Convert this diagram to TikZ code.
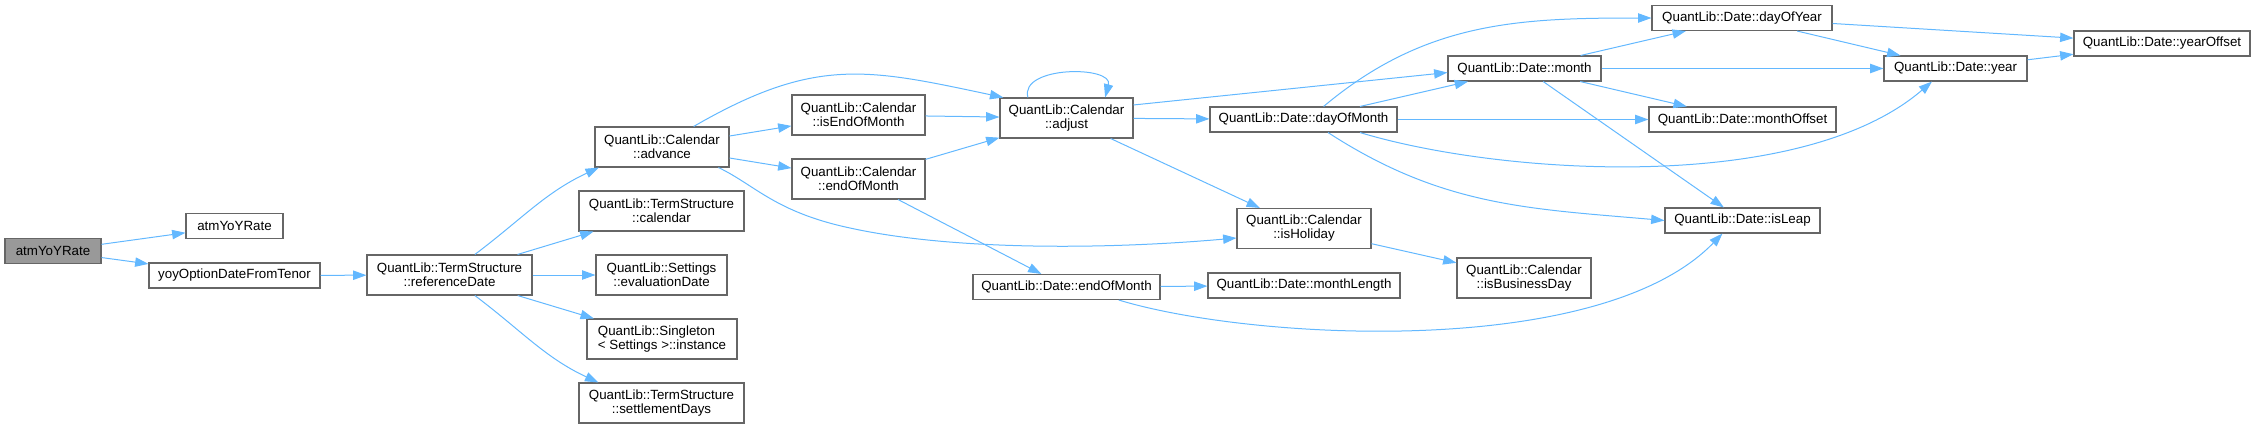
\documentclass[tikz,border=0pt]{standalone}
\usepackage{fontspec}
\setmainfont{Liberation Sans}
\usetikzlibrary{arrows.meta}
\definecolor{edgeblue}{HTML}{63B8FF}
\definecolor{boxgray}{HTML}{666666}
\definecolor{hlgray}{HTML}{999999}

\begin{document}
\begin{tikzpicture}[
    x=0.75pt, y=-0.75pt,
    box/.style={draw=boxgray, fill=white, line width=0.8pt, inner sep=0pt, minimum height=18.75pt, align=center, font=\fontsize{10}{10.5}\selectfont},
    tall/.style={minimum height=30pt},
    wd/.style={minimum width=#1*0.75pt},
    arr/.style={-{Triangle[length=10pt, width=7pt]}, draw=edgeblue, line width=0.75pt}
]

\useasboundingbox (0,0) rectangle (2256,429);

\node[box, wd=96, fill=hlgray] (atm) at (53,251) {atmYoYRate};

\node[box, wd=97] (atmY) at (234.5,226) {atmYoYRate};

\node[box, wd=171] (yoy) at (234.5,275.5) {yoyOptionDateFromTenor};

\node[box, tall, wd=165] (refD) at (449.5,275)
{QuantLib::TermStructure\\::referenceDate};

\node[box, tall, wd=134] (adv) at (662,147)
{QuantLib::Calendar\\::advance};

\node[box, tall, wd=165] (tsCal) at (661.5,211)
{QuantLib::TermStructure\\::calendar};

\node[box, tall, wd=131] (evD) at (661.5,275)
{QuantLib::Settings\\::evaluationDate};

\node[box, tall, wd=150, align=left] (sing) at (662,339)
{QuantLib::Singleton\\< Settings >::instance};

\node[box, tall, wd=165] (setD) at (661.5,403)
{QuantLib::TermStructure\\::settlementDays};

\node[box, tall, wd=133] (isEoM) at (858.5,115)
{QuantLib::Calendar\\::isEndOfMonth};

\node[box, tall, wd=133] (cEoM) at (858.5,179)
{QuantLib::Calendar\\::endOfMonth};

\node[box, tall, wd=133] (adj) at (1066.5,118)
{QuantLib::Calendar\\::adjust};

\node[box, wd=187] (dEoM) at (1066.5,287) {QuantLib::Date::endOfMonth};

\node[box, wd=192] (mLen) at (1304,285.5) {QuantLib::Date::monthLength};

\node[box, tall, wd=134] (isHol) at (1304,228.5)
{QuantLib::Calendar\\::isHoliday};

\node[box, wd=187] (dOfM) at (1303.5,119.5) {QuantLib::Date::dayOfMonth};

\node[box, wd=153] (month) at (1524.5,68.5) {QuantLib::Date::month};

\node[box, tall, wd=134] (isBD) at (1524,278)
{QuantLib::Calendar\\::isBusinessDay};

\node[box, wd=180] (dOfY) at (1742,18) {QuantLib::Date::dayOfYear};

\node[box, wd=187] (mOff) at (1742.5,119.5) {QuantLib::Date::monthOffset};

\node[box, wd=155] (isLeap) at (1742.5,220.5) {QuantLib::Date::isLeap};

\node[box, wd=143] (year) at (1955.5,68.5) {QuantLib::Date::year};

\node[box, wd=176] (yOff) at (2162,43.5) {QuantLib::Date::yearOffset};

\draw[arr] (atm) -- (atmY);
\draw[arr] (atm) -- (yoy);
\draw[arr] (yoy) -- (refD);

\draw[arr] (refD.39) to[out=37,in=205] (adv.198);
\draw[arr] (refD) -- (tsCal);
\draw[arr] (refD) -- (evD);
\draw[arr] (refD) -- (sing);
\draw[arr] (refD.-39) to[out=-37,in=155] (setD.162);

\draw[arr] (adv.33) to[out=30,in=168,looseness=1.15] (adj.162.5);
\draw[arr] (adv) -- (isEoM);
\draw[arr] (adv) -- (cEoM);
\draw[arr] (adv.-20) .. controls (755,185) and (775,212) .. (850,228)
    .. controls (950,250) and (1100,250) .. (isHol.188);

\draw[arr] (isEoM) -- (adj);
\draw[arr] (cEoM) -- (adj);
\draw[arr] (cEoM) -- (dEoM);

\draw[arr] (adj.152.5) to[out=105,in=75,looseness=1.1] (adj.28.7);
\draw[arr] (adj.11) -- (month.183);
\draw[arr] (adj) -- (dOfM);
\draw[arr] (adj) -- (isHol);

\draw[arr] (dOfM.33) to[out=40,in=180] (dOfY.west);
\draw[arr] (dOfM) -- (month);
\draw[arr] (dOfM) -- (mOff);
\draw[arr] (dOfM.-13.6) .. controls (1500,175) and (1800,195) .. (year.209);
\draw[arr] (dOfM.-28) to[out=-33,in=175] (isLeap.west);

\draw[arr] (month) -- (dOfY);
\draw[arr] (month) -- (year);
\draw[arr] (month) -- (mOff);
\draw[arr] (month) -- (isLeap);

\draw[arr] (dOfY) -- (yOff);
\draw[arr] (dOfY) -- (year);
\draw[arr] (year) -- (yOff);

\draw[arr] (isHol) -- (isBD);
\draw[arr] (dEoM) -- (mLen);
\draw[arr] (dEoM.-14.2) .. controls (1250,340) and (1600,360) .. (isLeap.213);

\end{tikzpicture}
\end{document}
